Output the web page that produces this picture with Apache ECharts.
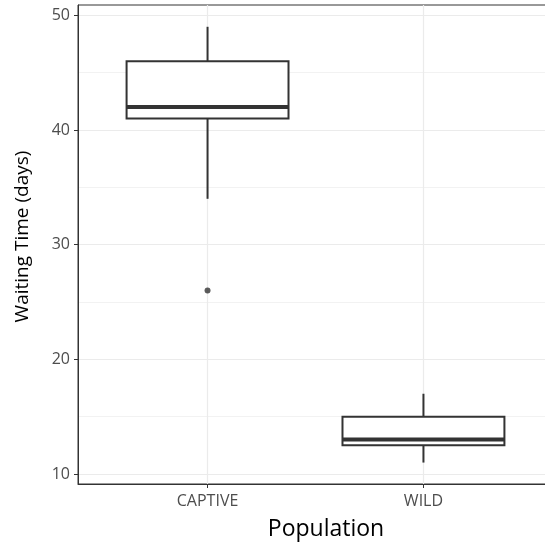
<!DOCTYPE html>
<html>
<head>
<meta charset="utf-8">
<script src="https://cdn.jsdelivr.net/npm/echarts@6/dist/echarts.min.js"></script>
<style>html,body{margin:0;padding:0;background:#fff}#c{width:545px;height:546px}</style>
</head>
<body>
<div id="c"></div>
<script>
var categories = ['CAPTIVE', 'WILD'];
var lowerWhisker = [34, 11];
var q1 = [41, 12.5];
var median = [42, 13];
var q3 = [46, 15];
var upperWhisker = [49, 17];
var outlierCategory = ['CAPTIVE'];
var outlierValue = [26];
var yMajorTicks = [10, 20, 30, 40, 50];
var yMinorTicks = [15, 25, 35, 45];

var boxData = categories.map(function (c, i) {
  return [i + 1, lowerWhisker[i], q1[i], median[i], q3[i], upperWhisker[i]];
});
var outlierData = outlierCategory.map(function (c, i) {
  return [categories.indexOf(c) + 1, outlierValue[i]];
});

var FONT = 'Open Sans';
var chart = echarts.init(document.getElementById('c'), null, {renderer: 'canvas'});
var halfW = 0.375;

function gridLines() {
  var d = [];
  yMinorTicks.forEach(function (v) { d.push({yAxis: v, lineStyle: {color: '#f2f2f2', width: 1, type: 'solid'}}); });
  yMajorTicks.forEach(function (v) { d.push({yAxis: v, lineStyle: {color: '#ebebeb', width: 1.2, type: 'solid'}}); });
  categories.forEach(function (c, i) { d.push({xAxis: i + 1, lineStyle: {color: '#ebebeb', width: 1.2, type: 'solid'}}); });
  return d;
}

chart.setOption({
  animation: false,
  backgroundColor: '#ffffff',
  grid: {left: 78, width: 475, top: 5, bottom: 62, outerBoundsMode: 'none', containLabel: false, show: true, borderColor: '#333333', borderWidth: 1, backgroundColor: 'transparent'},
  xAxis: {
    type: 'value', min: 0.4, max: 2.6,
    name: 'Population', nameLocation: 'middle', nameGap: 34,
    nameTextStyle: {fontFamily: FONT, fontSize: 23, color: '#000', padding: [0, 0, 0, 21]},
    axisLine: {show: true, lineStyle: {color: '#333333', width: 1}},
    axisTick: {show: true, length: 4, lineStyle: {color: '#333333'}, customValues: [1, 2]},
    axisLabel: {
      customValues: [1, 2], margin: 9,
      fontFamily: FONT, fontSize: 16, color: '#4d4d4d',
      formatter: function (v) { var i = Math.round(v) - 1; return (Math.abs(v - Math.round(v)) < 1e-6 && categories[i]) ? categories[i] : ''; }
    },
    splitLine: {show: false}, minorSplitLine: {show: false}
  },
  yAxis: {
    type: 'value', min: 9.13, max: 50.9,
    name: 'Waiting Time (days)', nameLocation: 'middle', nameGap: 46,
    nameTextStyle: {fontFamily: FONT, fontSize: 19, color: '#000', padding: [0, 0, 0, 16]},
    axisLine: {show: true, lineStyle: {color: '#333333', width: 1}},
    axisTick: {show: true, length: 4, lineStyle: {color: '#333333'}, customValues: yMajorTicks},
    axisLabel: {
      customValues: yMajorTicks, margin: 8,
      fontFamily: FONT, fontSize: 16, color: '#4d4d4d',
      formatter: function (v) { return (Math.abs(v % 10) < 1e-6) ? String(v) : ''; }
    },
    splitLine: {show: false}
  },
  series: [
    {
      type: 'line', data: [], z: 0, silent: true,
      markLine: {z: 0, silent: true, symbol: ['none', 'none'], label: {show: false}, animation: false, data: gridLines()}
    },
    {
      type: 'custom', z: 3,
      data: boxData,
      encode: {x: 0, y: [1, 2, 3, 4, 5]},
      renderItem: function (params, api) {
        var x = api.value(0);
        var lo = api.value(1), a = api.value(2), m = api.value(3), b = api.value(4), hi = api.value(5);
        var pTL = api.coord([x - halfW, b]);
        var pBR = api.coord([x + halfW, a]);
        var pMedL = api.coord([x - halfW, m]);
        var pMedR = api.coord([x + halfW, m]);
        var pHi = api.coord([x, hi]);
        var pB = api.coord([x, b]);
        var pA = api.coord([x, a]);
        var pLo = api.coord([x, lo]);
        var stroke = '#333333';
        return {
          type: 'group',
          children: [
            {type: 'line', shape: {x1: pHi[0], y1: pHi[1], x2: pB[0], y2: pB[1]}, style: {stroke: stroke, lineWidth: 2}},
            {type: 'line', shape: {x1: pA[0], y1: pA[1], x2: pLo[0], y2: pLo[1]}, style: {stroke: stroke, lineWidth: 2}},
            {type: 'rect', shape: {x: pTL[0], y: pTL[1], width: pBR[0] - pTL[0], height: pBR[1] - pTL[1]}, style: {fill: '#ffffff', stroke: stroke, lineWidth: 2}},
            {type: 'line', shape: {x1: pMedL[0], y1: pMedL[1], x2: pMedR[0], y2: pMedR[1]}, style: {stroke: stroke, lineWidth: 4}}
          ]
        };
      }
    },
    {
      type: 'scatter', z: 4,
      data: outlierData,
      symbol: 'circle', symbolSize: 6,
      itemStyle: {color: '#333333'}
    }
  ]
});
</script>
</body>
</html>
